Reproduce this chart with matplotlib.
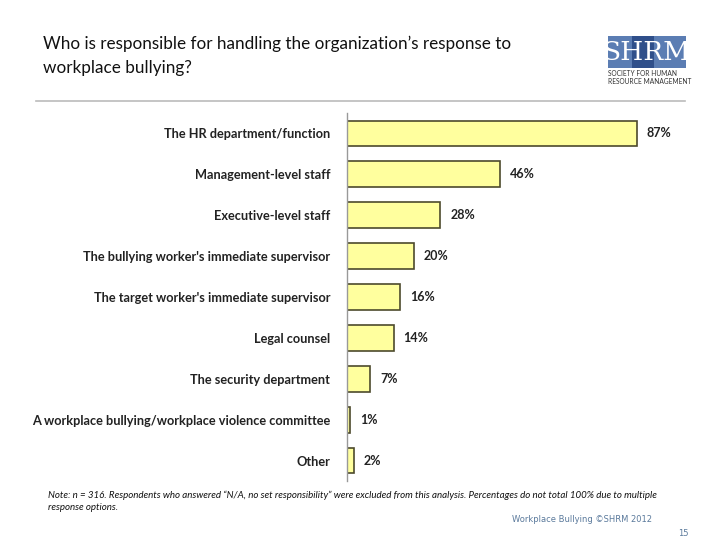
import matplotlib.pyplot as plt
from matplotlib.patches import Rectangle
import numpy as np

# Data
categorias = ['The HR department/function',
              'Management-level staff',
              'Executive-level staff',
              "The bullying worker's immediate supervisor",
              "The target worker's immediate supervisor",
              'Legal counsel',
              'The security department',
              'A workplace bullying/workplace violence committee',
              'Other']
valores = [87, 46, 28, 20, 16, 14, 7, 1, 2]

plt.rcParams['font.family'] = ['Lato', 'DejaVu Sans']

fig = plt.figure(figsize=(7.2, 5.4), dpi=100)
ax = fig.add_axes([347 / 720, 1 - 481 / 540, 333 / 720, 368 / 540])

pos = np.arange(len(categorias))
ax.barh(pos, valores, height=0.63, color='#ffff9e', edgecolor='#4d4a2c', linewidth=1.2)
for p, v in zip(pos, valores):
    ax.text(v + 3, p, f'{v}%', va='center', ha='left', fontsize=9, fontweight='bold', color='#222222')

ax.set_xlim(0, 100)
ax.set_ylim(len(categorias) - 0.5, -0.5)
ax.set_yticks(pos)
ax.set_yticklabels(categorias, fontsize=9.2, fontweight='bold', color='#222222')
ax.tick_params(axis='y', length=0, pad=12)
ax.set_xticks([])
for s in ['top', 'right', 'bottom']:
    ax.spines[s].set_visible(False)
ax.spines['left'].set_color('#999999')
ax.spines['left'].set_linewidth(1)

# Title and header
fig.text(43 / 720, 1 - 44 / 540, 'Who is responsible for handling the organization\u2019s response to',
         fontsize=12.3, va='center', ha='left', color='#111111')
fig.text(43 / 720, 1 - 68 / 540, 'workplace bullying?',
         fontsize=12.3, va='center', ha='left', color='#111111')
fig.add_artist(plt.Line2D([36 / 720, 685 / 720], [1 - 101 / 540, 1 - 101 / 540],
                          color='#bbbbbb', linewidth=1.2))

# Logo
fig.add_artist(Rectangle((608 / 720, 1 - 68 / 540), 78 / 720, 32 / 540,
                         facecolor='#5b7db3', edgecolor='none'))
fig.add_artist(Rectangle((632 / 720, 1 - 68 / 540), 22 / 720, 32 / 540,
                         facecolor='#2f4f8a', edgecolor='none'))
fig.text(647 / 720, 1 - 52 / 540, 'SHRM', fontsize=19, family='DejaVu Serif',
         color='white', ha='center', va='center')
fig.text(608 / 720, 1 - 74 / 540, 'SOCIETY FOR HUMAN', fontsize=4.8, color='#333333',
         ha='left', va='center')
fig.text(608 / 720, 1 - 81 / 540, 'RESOURCE MANAGEMENT', fontsize=4.8, color='#333333',
         ha='left', va='center')

# Notes
fig.text(48 / 720, 1 - 495 / 540,
         'Note: n = 316. Respondents who answered \u201cN/A, no set responsibility\u201d were excluded from this analysis. '
         'Percentages do not total 100% due to multiple',
         fontsize=7, style='italic', ha='left', va='center', color='#111111')
fig.text(48 / 720, 1 - 507 / 540, 'response options.',
         fontsize=7, style='italic', ha='left', va='center', color='#111111')
fig.text(652 / 720, 1 - 519 / 540, 'Workplace Bullying \u00a9SHRM 2012',
         fontsize=6, ha='right', va='center', color='#5b7a9c', family='DejaVu Sans')
fig.text(689 / 720, 1 - 533 / 540, '15', fontsize=6, ha='right', va='center',
         color='#5b7a9c', family='DejaVu Sans')

fig.savefig('out.png', dpi=100)
